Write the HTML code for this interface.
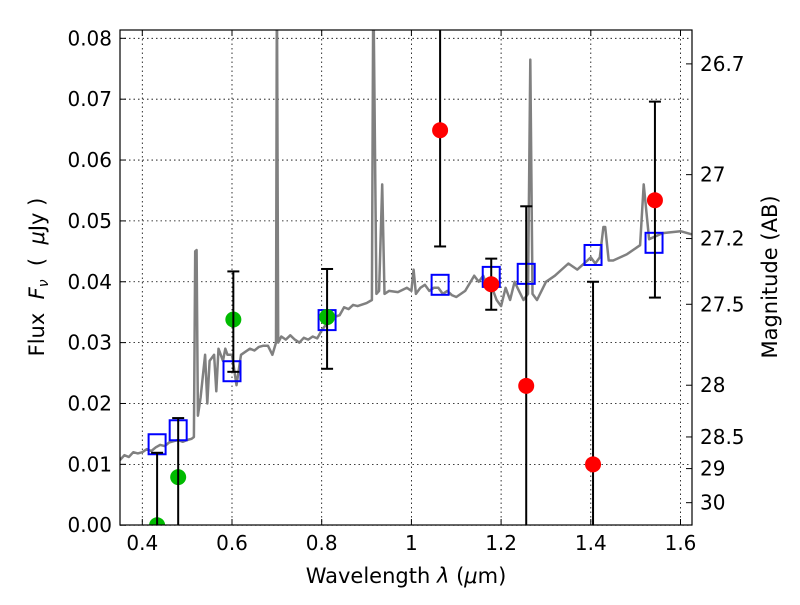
<!DOCTYPE html>
<html><head><meta charset="utf-8"><style>
html,body{margin:0;padding:0;background:#fff;}
svg text{font-family:"DejaVu Sans","Liberation Sans",sans-serif;fill:#000;}
</style></head><body>
<svg id="chart" width="800" height="600" xmlns="http://www.w3.org/2000/svg">
<defs><clipPath id="cp"><rect x="120" y="30" width="572" height="495"/></clipPath></defs>
<g id="grid"></g>
<g id="spec" clip-path="url(#cp)"></g>
<g id="marks"></g>
<g id="axes"></g>
<text x="406" y="583" font-size="21" text-anchor="middle">Wavelength  <tspan font-style="italic">λ</tspan> (<tspan font-style="italic">μ</tspan>m)</text>
<text transform="translate(44,277) rotate(-90)" font-size="21" text-anchor="middle" xml:space="preserve">Flux  <tspan font-style="italic">F<tspan font-size="14" dy="4">ν</tspan></tspan><tspan dy="-4">  (  </tspan><tspan font-style="italic">μ</tspan>Jy )</text>
<text transform="translate(777,277) rotate(-90)" font-size="21" text-anchor="middle">Magnitude (AB)</text>
</svg>
<script>
const specWave=[0.35,0.36,0.37,0.38,0.39,0.40,0.41,0.42,0.43,0.44,0.45,0.46,0.47,0.48,0.49,0.50,0.51,0.515,0.518,0.521,0.524,0.53,0.54,0.545,0.55,0.56,0.565,0.57,0.58,0.585,0.59,0.60,0.61,0.62,0.63,0.64,0.65,0.66,0.67,0.68,0.69,0.698,0.70,0.703,0.71,0.72,0.73,0.74,0.75,0.76,0.77,0.78,0.79,0.80,0.82,0.84,0.85,0.86,0.87,0.88,0.90,0.912,0.915,0.922,0.928,0.935,0.94,0.95,0.97,0.99,1.0,1.005,1.01,1.02,1.03,1.04,1.05,1.06,1.07,1.08,1.09,1.10,1.12,1.14,1.15,1.16,1.17,1.18,1.19,1.20,1.21,1.22,1.23,1.24,1.25,1.26,1.265,1.27,1.28,1.30,1.32,1.35,1.37,1.40,1.41,1.42,1.428,1.432,1.44,1.45,1.48,1.51,1.518,1.522,1.53,1.56,1.60,1.625];
const specFlux=[0.0107,0.0115,0.0112,0.0120,0.0118,0.0120,0.0125,0.0122,0.0128,0.0132,0.0130,0.0136,0.0138,0.0140,0.0137,0.0140,0.0142,0.0145,0.045,0.0452,0.018,0.021,0.028,0.020,0.027,0.028,0.022,0.029,0.027,0.029,0.028,0.028,0.023,0.028,0.0285,0.029,0.0287,0.0293,0.0295,0.0295,0.028,0.030,0.09,0.030,0.031,0.0305,0.0312,0.0305,0.030,0.0308,0.0305,0.031,0.0307,0.032,0.034,0.0345,0.0358,0.0355,0.0362,0.036,0.0365,0.037,0.09,0.038,0.0385,0.056,0.038,0.0385,0.0383,0.039,0.0385,0.042,0.038,0.039,0.0395,0.0385,0.039,0.039,0.038,0.0385,0.0378,0.0375,0.0385,0.041,0.040,0.041,0.039,0.039,0.037,0.036,0.039,0.037,0.040,0.0385,0.037,0.038,0.0765,0.038,0.037,0.040,0.041,0.043,0.042,0.044,0.043,0.044,0.049,0.049,0.0435,0.0435,0.0445,0.046,0.056,0.053,0.047,0.048,0.0483,0.0478];
const sqWave=[0.433,0.48,0.60,0.812,1.064,1.178,1.256,1.405,1.541];
const sqFlux=[0.0133,0.0156,0.0253,0.0337,0.0395,0.0408,0.0413,0.0444,0.0464];
const gWave=[0.433,0.48,0.603,0.812];
const gFlux=[0.0,0.0079,0.0338,0.0342];
const gLo=[0.0,0.0,0.0252,0.0257];
const gHi=[0.0119,0.0176,0.0417,0.0421];
const rWave=[1.064,1.178,1.256,1.405,1.543];
const rFlux=[0.0649,0.0396,0.0229,0.0100,0.0534];
const rLo=[0.0458,0.0354,-0.01,-0.01,0.0374];
const rHi=[0.09,0.0438,0.0524,0.0400,0.0696];
const xTicks=[0.4,0.6,0.8,1.0,1.2,1.4,1.6];
const xTickLabels=["0.4","0.6","0.8","1","1.2","1.4","1.6"];
const yTicks=[0,0.01,0.02,0.03,0.04,0.05,0.06,0.07,0.08];
const yTickLabels=["0.00","0.01","0.02","0.03","0.04","0.05","0.06","0.07","0.08"];
const magLabels=["26.7","27","27.2","27.5","28","28.5","29","30"];
const magFlux=[0.0758,0.0576,0.0471,0.0363,0.0230,0.0145,0.0093,0.0037];

const L=120,R=692,T=30,B=525;
const xs=v=>142.3+(v-0.4)*448.5;
const ys=v=>525.2-v*6086;
const NS="http://www.w3.org/2000/svg";
function mk(tag,parent,attrs){const e=document.createElementNS(NS,tag);for(const k in attrs)e.setAttribute(k,attrs[k]);parent.appendChild(e);return e;}
const clip=v=>Math.max(T,Math.min(B,v));
const grid=document.getElementById('grid'),axes=document.getElementById('axes'),spec=document.getElementById('spec'),marks=document.getElementById('marks');

xTicks.forEach((t,i)=>{
  const x=xs(t);
  const g=mk('line',grid,{x1:x,x2:x,y1:T,y2:B,stroke:'#000','stroke-width':0.8,'stroke-dasharray':'1.5,3'});
  
  
  mk('line',axes,{x1:x,x2:x,y1:B,y2:B-6,stroke:'#000'});
  mk('line',axes,{x1:x,x2:x,y1:T,y2:T+6,stroke:'#000'});
  const lb=mk('text',axes,{x:x,y:B+25,'font-size':20,'text-anchor':'middle'});
  lb.textContent=xTickLabels[i];
  
  
});
yTicks.forEach((t,i)=>{
  const y=ys(t);
  const g=mk('line',grid,{x1:L,x2:R,y1:y,y2:y,stroke:'#000','stroke-width':0.8,'stroke-dasharray':'1.5,3'});
  
  
  mk('line',axes,{x1:L,x2:L+6,y1:y,y2:y,stroke:'#000'});
  const lb=mk('text',axes,{x:112,y:y+7,'font-size':20,'text-anchor':'end'});
  lb.textContent=yTickLabels[i];
  
  
});
magLabels.forEach((m,i)=>{
  const y=ys(magFlux[i]);
  mk('line',axes,{x1:R,x2:R-6,y1:y,y2:y,stroke:'#000'});
  const lb=mk('text',axes,{x:700,y:y+7,'font-size':20});
  lb.textContent=m;
  
  
});
const frame=mk('rect',axes,{x:L,y:T,width:R-L,height:B-T,fill:'none',stroke:'#000','stroke-width':1.2});



const pts=specWave.map((w,i)=>xs(w).toFixed(1)+','+ys(specFlux[i]).toFixed(1)).join(' ');
const pl=mk('polyline',spec,{points:pts,fill:'none',stroke:'#808080','stroke-width':2.5,'stroke-linejoin':'round'});



function errbar(x,lo,hi){
  const y1=clip(ys(lo)),y2=clip(ys(hi));
  mk('line',marks,{x1:x,x2:x,y1:y1,y2:y2,stroke:'#000','stroke-width':2});
  if(ys(lo)<=B) mk('line',marks,{x1:x-6,x2:x+6,y1:y1,y2:y1,stroke:'#000','stroke-width':2});
  if(ys(hi)>=T) mk('line',marks,{x1:x-6,x2:x+6,y1:y2,y2:y2,stroke:'#000','stroke-width':2});
}
sqWave.forEach((w,i)=>{
  const s=mk('rect',marks,{x:xs(w)-8.5,y:ys(sqFlux[i])-10,width:17,height:20,fill:'none',stroke:'#0000ff','stroke-width':2});
  
  
});
const gclip=mk('g',marks,{'clip-path':'url(#cp)'});
gWave.forEach((w,i)=>{
  errbar(xs(w),gLo[i],gHi[i]);
  const c=mk('circle',gclip,{cx:xs(w),cy:ys(gFlux[i]),r:8,fill:'#00bb00'});
  
  
});
rWave.forEach((w,i)=>{
  errbar(xs(w),rLo[i],rHi[i]);
  const c=mk('circle',marks,{cx:xs(w),cy:ys(rFlux[i]),r:8,fill:'#ff0000'});
  
  
});
</script>
</body></html>
